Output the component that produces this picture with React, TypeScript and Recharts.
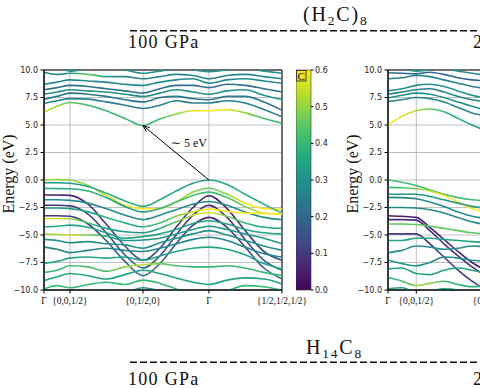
import React from 'react';
import { LineChart, Line, BarChart, Bar, XAxis, YAxis, CartesianGrid, ReferenceArea, ReferenceLine } from 'recharts';

const K_100 = [0, 0.055, 0.109, 0.185, 0.261, 0.34, 0.416, 0.487, 0.555, 0.626, 0.693, 0.769, 0.845, 0.924, 1.0];
const K_TICKS_100 = [0, 0.109, 0.416, 0.693, 1.0];
const K_200 = [0, 0.059, 0.118, 0.176, 0.235, 0.294, 0.353, 0.42];
const K_TICKS_200 = [0, 0.119, 0.43, 0.69, 1.0];
const K_LABELS = ['Γ', '{0,0,1/2}', '{0,1/2,0}', 'Γ', '{1/2,1/2,1/2}'];

const E_TICKS = [-10, -7.5, -5, -2.5, 0, 2.5, 5, 7.5, 10];
const C_TICKS = [0, 0.1, 0.2, 0.3, 0.4, 0.5, 0.6];
const C_BAR = [{ name: 'C', value: 0.6 }];

// band energies (eV), 100 GPa
const BANDS_100 = [
  [6.15, 6.7, 7.05, 6.8, 6.3, 5.6, 4.95, 5.55, 6.0, 6.3, 6.3, 6.4, 6.1, 5.6, 5.15],
  [6.95, 7.2, 7.4, 7.35, 7.1, 6.8, 6.5, 6.8, 7.2, 7.0, 7.0, 7.2, 7.0, 6.4, 5.75],
  [7.35, 7.6, 7.9, 7.8, 7.6, 7.3, 7.1, 7.5, 7.6, 7.4, 7.3, 7.6, 7.6, 7.1, 6.35],
  [7.8, 8.0, 8.2, 8.1, 8.0, 7.8, 7.6, 7.9, 8.2, 8.0, 7.8, 8.1, 8.2, 7.7, 7.3],
  [8.2, 8.4, 8.6, 8.5, 8.3, 8.1, 7.9, 8.3, 8.6, 8.6, 8.4, 8.7, 8.6, 8.3, 8.0],
  [8.7, 8.9, 9.1, 9.0, 8.9, 8.7, 8.6, 8.9, 9.1, 9.2, 8.8, 9.1, 9.2, 9.0, 8.8],
  [9.8, 9.6, 9.7, 9.6, 9.4, 9.4, 9.2, 9.4, 9.6, 9.5, 9.2, 9.5, 9.6, 9.4, 9.2],
  [10.3, 10.2, 9.9, 10.1, 10.2, 10.0, 9.7, 9.9, 10.1, 10.0, 9.85, 10.0, 10.1, 9.9, 9.7],
  [0.0, 0.05, 0.0, -0.5, -1.4, -2.3, -2.6, -2.6, -2.0, -1.1, -0.75, -1.3, -2.1, -2.6, -2.65],
  [-0.25, -0.25, -0.3, -0.6, -1.2, -1.9, -2.4, -1.8, -1.0, -0.3, 0.0, -0.4, -1.3, -2.2, -3.0],
  [-0.76, -0.78, -0.8, -1.0, -1.6, -2.4, -2.9, -2.6, -2.0, -1.4, -1.1, -1.6, -2.4, -3.0, -3.1],
  [-1.36, -1.36, -1.4, -2.2, -4.0, -6.0, -7.3, -6.2, -4.3, -2.5, -1.43, -2.6, -4.6, -6.5, -7.3],
  [-1.8, -1.8, -1.85, -2.1, -2.6, -3.2, -3.6, -3.2, -2.7, -2.2, -1.95, -2.3, -2.9, -3.4, -3.6],
  [-2.3, -2.3, -2.35, -3.1, -4.8, -6.8, -8.0, -6.9, -5.0, -3.2, -2.3, -3.4, -5.4, -7.3, -8.2],
  [-2.55, -2.55, -2.6, -2.9, -3.4, -3.9, -4.25, -3.9, -3.3, -2.9, -2.65, -2.85, -3.0, -3.05, -3.1],
  [-3.25, -3.25, -3.3, -4.0, -5.5, -7.4, -8.7, -7.6, -5.8, -4.1, -3.4, -4.3, -6.1, -8.0, -9.0],
  [-3.5, -3.5, -3.52, -3.9, -4.4, -4.7, -4.8, -4.4, -3.8, -3.2, -2.95, -3.3, -3.9, -4.3, -4.4],
  [-4.25, -4.2, -4.1, -4.3, -4.8, -5.3, -5.15, -4.9, -4.5, -3.95, -3.7, -4.0, -4.5, -4.8, -4.9],
  [-4.9, -4.95, -5.0, -5.0, -5.1, -5.5, -5.45, -5.3, -4.9, -4.5, -4.2, -4.5, -4.9, -5.3, -5.8],
  [-5.4, -5.5, -5.7, -5.6, -5.8, -5.9, -6.2, -5.7, -5.3, -4.9, -4.6, -5.0, -5.5, -6.0, -6.4],
  [-6.1, -6.3, -6.6, -6.4, -6.2, -6.4, -6.5, -6.2, -5.8, -5.4, -5.2, -5.5, -6.1, -6.7, -7.0],
  [-7.6, -7.4, -7.1, -7.0, -7.1, -7.0, -7.3, -6.9, -6.5, -6.2, -6.1, -6.3, -6.8, -7.6, -8.1],
  [-8.4, -8.2, -7.8, -7.9, -8.3, -7.9, -7.7, -7.6, -7.8, -7.9, -7.9, -7.8, -8.0, -8.4, -8.7],
  [-9.15, -8.8, -8.5, -8.7, -9.0, -8.6, -8.2, -8.5, -8.9, -9.3, -9.5, -9.1, -8.9, -9.0, -9.45],
  [-9.9, -9.6, -9.8, -9.5, -9.3, -9.5, -9.1, -9.4, -9.9, -10.3, -10.6, -10.1, -9.6, -9.7, -10.0],
  [-10.6, -10.4, -10.6, -10.3, -10.0, -10.2, -9.8, -10.1, -10.6, -11.0, -11.2, -10.8, -10.2, -10.4, -10.6],
];

// carbon weight per band (single value = constant along the path)
const WEIGHT_100: (number | number[])[] = [
  [0.55, 0.5, 0.45, 0.4, 0.4, 0.4, 0.4, 0.42, 0.5, 0.58, 0.6, 0.58, 0.5, 0.42, 0.4],
  0.26, 0.24, 0.3, 0.22, 0.28,
  [0.27, 0.27, 0.3, 0.45, 0.35, 0.27, 0.27, 0.27, 0.27, 0.27, 0.27, 0.27, 0.27, 0.27, 0.27],
  0.3,
  [0.5, 0.5, 0.5, 0.5, 0.55, 0.6, 0.6, 0.6, 0.55, 0.5, 0.45, 0.5, 0.58, 0.6, 0.6],
  [0.32, 0.32, 0.32, 0.35, 0.38, 0.38, 0.38, 0.38, 0.36, 0.34, 0.34, 0.36, 0.38, 0.4, 0.42],
  [0.38, 0.38, 0.38, 0.38, 0.35, 0.33, 0.33, 0.38, 0.42, 0.42, 0.4, 0.42, 0.48, 0.55, 0.55],
  [0.05, 0.05, 0.06, 0.08, 0.1, 0.13, 0.16, 0.13, 0.1, 0.06, 0.04, 0.06, 0.1, 0.13, 0.16],
  0.28,
  [0.08, 0.08, 0.1, 0.12, 0.14, 0.17, 0.2, 0.17, 0.12, 0.08, 0.05, 0.08, 0.12, 0.17, 0.2],
  [0.33, 0.33, 0.33, 0.36, 0.38, 0.38, 0.38, 0.42, 0.48, 0.55, 0.6, 0.6, 0.6, 0.6, 0.6],
  [0.1, 0.1, 0.1, 0.12, 0.15, 0.18, 0.22, 0.18, 0.14, 0.1, 0.06, 0.1, 0.14, 0.18, 0.22],
  [0.55, 0.55, 0.5, 0.42, 0.36, 0.32, 0.32, 0.36, 0.45, 0.55, 0.58, 0.48, 0.4, 0.36, 0.36],
  0.35,
  [0.5, 0.52, 0.55, 0.48, 0.38, 0.32, 0.32, 0.32, 0.32, 0.32, 0.32, 0.32, 0.32, 0.32, 0.32],
  0.3, 0.27, 0.35,
  [0.4, 0.4, 0.42, 0.42, 0.42, 0.5, 0.55, 0.48, 0.42, 0.4, 0.4, 0.4, 0.4, 0.4, 0.4],
  0.35, 0.4, 0.3,
];

// band energies (eV), 200 GPa (only the start of the path is in frame)
const BANDS_200 = [
  [5.0, 5.8, 6.3, 6.45, 6.2, 5.6, 5.0, 4.4],
  [7.15, 7.3, 7.5, 7.4, 7.1, 6.6, 6.1, 5.8],
  [7.45, 7.7, 7.9, 7.8, 7.5, 7.1, 6.7, 6.3],
  [7.8, 8.0, 8.2, 8.3, 8.0, 7.6, 7.3, 7.1],
  [8.1, 8.3, 8.6, 8.7, 8.5, 8.1, 7.7, 7.4],
  [9.2, 9.3, 9.5, 9.4, 9.1, 8.8, 8.5, 8.3],
  [9.75, 9.7, 9.65, 9.8, 9.6, 9.3, 9.1, 9.0],
  [10.3, 10.1, 9.9, 10.0, 10.1, 9.9, 9.7, 9.5],
  [0.0, -0.2, -0.5, -0.9, -1.3, -1.6, -1.8, -1.9],
  [-0.67, -0.7, -0.8, -1.0, -1.4, -2.0, -2.6, -2.9],
  [-1.27, -1.3, -1.3, -1.5, -1.8, -2.1, -2.4, -2.6],
  [-1.58, -1.6, -1.7, -2.0, -2.4, -2.9, -3.3, -3.5],
  [-2.5, -2.5, -2.55, -2.7, -3.0, -3.4, -3.8, -4.1],
  [-3.25, -3.3, -3.4, -4.3, -5.4, -6.5, -7.5, -8.3],
  [-3.6, -3.6, -3.65, -4.6, -5.8, -6.9, -7.9, -8.8],
  [-4.0, -4.0, -4.05, -4.2, -4.4, -4.6, -4.8, -4.9],
  [-4.9, -4.9, -4.9, -5.8, -7.0, -8.2, -9.2, -10.1],
  [-5.5, -5.5, -5.3, -5.3, -5.4, -5.5, -5.6, -5.7],
  [-6.6, -6.4, -6.0, -6.1, -6.3, -6.2, -6.0, -6.1],
  [-7.3, -7.6, -7.8, -7.5, -7.0, -7.1, -7.3, -7.4],
  [-8.1, -8.0, -8.5, -8.6, -8.2, -8.0, -8.2, -8.5],
  [-8.85, -9.2, -9.6, -9.4, -9.2, -9.5, -9.7, -9.6],
  [-9.9, -9.8, -10.2, -10.1, -9.9, -10.0, -10.3, -10.2],
];

const WEIGHT_200: (number | number[])[] = [
  [0.6, 0.58, 0.52, 0.45, 0.4, 0.36, 0.33, 0.33],
  0.27, 0.3, 0.26, 0.3, 0.26, 0.2, 0.3,
  0.42,
  [0.42, 0.42, 0.48, 0.55, 0.6, 0.6, 0.6, 0.6],
  0.32, 0.28, 0.28,
  0.05, 0.08, 0.45, 0.1, 0.35, 0.3, 0.3, 0.35,
  [0.38, 0.42, 0.5, 0.5, 0.42, 0.38, 0.38, 0.38],
  0.35,
];

const GAP_FROM = { k: 0.693, e: 0 };
const GAP_TO = { k: 0.416, e: 4.95 };

const VIRIDIS = ['#440154', '#482475', '#414487', '#355f8d', '#2a788e', '#21918c', '#22a884', '#44bf70', '#7ad151', '#bddf26', '#fde725'];
const C_MAX = 0.6;
const SERIF = "'Liberation Serif', 'DejaVu Serif', serif";
const SANS = "'DejaVu Sans', sans-serif";

function hexRgb(h: string) {
  return [1, 3, 5].map(i => parseInt(h.slice(i, i + 2), 16));
}

function viridis(t: number) {
  const x = Math.max(0, Math.min(1, t)) * (VIRIDIS.length - 1);
  const i = Math.min(Math.floor(x), VIRIDIS.length - 2);
  const f = x - i;
  const a = hexRgb(VIRIDIS[i]);
  const b = hexRgb(VIRIDIS[i + 1]);
  const c = a.map((v, j) => Math.round(v + (b[j] - v) * f));
  return `rgb(${c[0]},${c[1]},${c[2]})`;
}

const fmtE = (v: number) => v.toFixed(1).replace('-', '\u2212');

function KTick({ x, y, payload, ticks }: any) {
  const idx = ticks.indexOf(payload.value);
  const label = K_LABELS[idx] ?? '';
  return (
    <text x={x} y={y + 8} textAnchor="middle" fontFamily={SERIF} fontSize={9.5} fill="#111">
      {label}
    </text>
  );
}

function GapArrow(props: any) {
  const { x1, y1, x2, y2 } = props;
  const ang = Math.atan2(y2 - y1, x2 - x1);
  const h = 7;
  const spread = 0.38;
  const a1 = [x2 - h * Math.cos(ang - spread), y2 - h * Math.sin(ang - spread)];
  const a2 = [x2 - h * Math.cos(ang + spread), y2 - h * Math.sin(ang + spread)];
  const mx = (x1 + x2) / 2;
  const my = (y1 + y2) / 2;
  return (
    <g>
      <line x1={x1} y1={y1} x2={x2} y2={y2} stroke="#000" strokeWidth={1} />
      <polyline points={`${a1[0]},${a1[1]} ${x2},${y2} ${a2[0]},${a2[1]}`} fill="none" stroke="#000" strokeWidth={1} />
      <text x={mx - 5} y={my - 6} fontFamily={SERIF} fontSize={12} fill="#111">∼ 5 eV</text>
    </g>
  );
}

interface PanelProps {
  id: string;
  left: number;
  ks: number[];
  bands: number[][];
  weights: (number | number[])[];
  kTicks: number[];
  arrow?: boolean;
}

function BandPanel({ id, left, ks, bands, weights, kTicks, arrow }: PanelProps) {
  const data = ks.map((k, i) => {
    const row: Record<string, number> = { k };
    bands.forEach((b, j) => { row['b' + j] = b[i]; });
    return row;
  });
  const w = (j: number, i: number) => {
    const v = weights[j];
    return typeof v === 'number' ? v : v[i];
  };

  return (
    <div style={{ position: 'absolute', left, top: 60 }}>
      <LineChart width={312} height={250} data={data} margin={{ top: 10, right: 30, bottom: 0, left: 0 }}>
        <defs>
          {bands.map((_, j) => (
            <linearGradient key={j} id={`${id}-g${j}`} gradientUnits="userSpaceOnUse" x1={44} y1={0} x2={282} y2={0}>
              {ks.map((k, i) => (
                <stop key={i} offset={k} stopColor={viridis(w(j, i) / C_MAX)} />
              ))}
            </linearGradient>
          ))}
        </defs>
        <CartesianGrid stroke="#b0b0b0" strokeWidth={0.8} />
        <XAxis
          dataKey="k"
          type="number"
          domain={[0, 1]}
          ticks={kTicks}
          interval={0}
          height={20}
          tickSize={3.5}
          stroke="#000"
          tick={(p: any) => <KTick {...p} ticks={kTicks} />}
        />
        <YAxis
          type="number"
          domain={[-10, 10]}
          ticks={E_TICKS}
          interval={0}
          allowDataOverflow
          width={44}
          tickSize={3.5}
          tickMargin={2.5}
          stroke="#000"
          tickFormatter={fmtE}
          tick={{ fontSize: 8, fill: '#222', fontFamily: SANS }}
        />
        {bands.map((_, j) => (
          <Line
            key={j}
            dataKey={'b' + j}
            type="monotone"
            stroke={`url(#${id}-g${j})`}
            strokeWidth={1.6}
            dot={false}
            activeDot={false}
            isAnimationActive={false}
          />
        ))}
        <ReferenceArea x1={0} x2={1} y1={-10} y2={10} fill="none" stroke="#000" strokeWidth={1} />
        {arrow && (
          <ReferenceLine
            segment={[{ x: GAP_FROM.k, y: GAP_FROM.e }, { x: GAP_TO.k, y: GAP_TO.e }]}
            shape={(p: any) => <GapArrow {...p} />}
          />
        )}
      </LineChart>
    </div>
  );
}

function ColorBar() {
  return (
    <div style={{ position: 'absolute', left: 296, top: 60 }}>
      <BarChart width={42} height={250} data={C_BAR} margin={{ top: 10, right: 0, bottom: 20, left: 0 }} barCategoryGap={0}>
        <defs>
          <linearGradient id="cbar" x1="0" y1="1" x2="0" y2="0">
            {VIRIDIS.map((c, i) => (
              <stop key={i} offset={i / (VIRIDIS.length - 1)} stopColor={c} />
            ))}
          </linearGradient>
        </defs>
        <XAxis dataKey="name" hide />
        <YAxis
          orientation="right"
          type="number"
          domain={[0, C_MAX]}
          ticks={C_TICKS}
          interval={0}
          width={27}
          axisLine={false}
          tickSize={2.5}
          tickMargin={1.5}
          stroke="#000"
          tickFormatter={(v: number) => v.toFixed(1)}
          tick={{ fontSize: 8, fill: '#222', fontFamily: SANS }}
        />
        <Bar dataKey="value" fill="url(#cbar)" stroke="#333" strokeWidth={0.6} isAnimationActive={false} />
      </BarChart>
    </div>
  );
}

function Decorations() {
  return (
    <svg width={480} height={388} style={{ position: 'absolute', left: 0, top: 0, pointerEvents: 'none' }}>
      {/* top block */}
      <text x={303} y={20.5} fontFamily={SERIF} fontSize={20} letterSpacing={1.8} fill="#111">
        (H<tspan dy={4} fontSize={13.5}>2</tspan><tspan dy={-4}>C)</tspan><tspan dy={4} fontSize={13.5}>8</tspan>
      </text>
      <line x1={130} y1={30.7} x2={480} y2={30.7} stroke="#111" strokeWidth={1.5} strokeDasharray="7 3" />
      <text x={128} y={48} fontFamily={SERIF} fontSize={18} letterSpacing={1.3} fill="#111">100 GPa</text>
      <text x={473} y={48} fontFamily={SERIF} fontSize={18} letterSpacing={1.3} fill="#111">200 GPa</text>

      {/* bottom block */}
      <text x={306} y={354} fontFamily={SERIF} fontSize={20} letterSpacing={1.8} fill="#111">
        H<tspan dy={3.5} fontSize={13.5}>14</tspan><tspan dy={-3.5}>C</tspan><tspan dy={3.5} fontSize={13.5}>8</tspan>
      </text>
      <line x1={130} y1={362.3} x2={480} y2={362.3} stroke="#111" strokeWidth={1.5} strokeDasharray="7 3" />
      <text x={128} y={385} fontFamily={SERIF} fontSize={18} letterSpacing={1.3} fill="#111">100 GPa</text>
      <text x={473} y={385} fontFamily={SERIF} fontSize={18} letterSpacing={1.3} fill="#111">200 GPa</text>

      {/* axis titles */}
      <text transform="translate(13.5,174) rotate(-90)" textAnchor="middle" fontFamily={SERIF} fontSize={16} fill="#111">Energy (eV)</text>
      <text transform="translate(358,174) rotate(-90)" textAnchor="middle" fontFamily={SERIF} fontSize={16} fill="#111">Energy (eV)</text>

      {/* colorbar label */}
      <rect x={296.5} y={70.5} width={9.5} height={10.5} fill="none" stroke="#222" strokeWidth={0.8} />
      <text x={297.6} y={79.6} fontFamily={SERIF} fontSize={11} fill="#111">C</text>
    </svg>
  );
}

export default function App() {
  return (
    <div style={{ position: 'absolute', left: 0, top: 0, width: 480, height: 388, overflow: 'hidden', background: '#fff' }}>
      <BandPanel id="p100" left={0} ks={K_100} bands={BANDS_100} weights={WEIGHT_100} kTicks={K_TICKS_100} arrow />
      <ColorBar />
      <BandPanel id="p200" left={344} ks={K_200} bands={BANDS_200} weights={WEIGHT_200} kTicks={K_TICKS_200} />
      <Decorations />
    </div>
  );
}
